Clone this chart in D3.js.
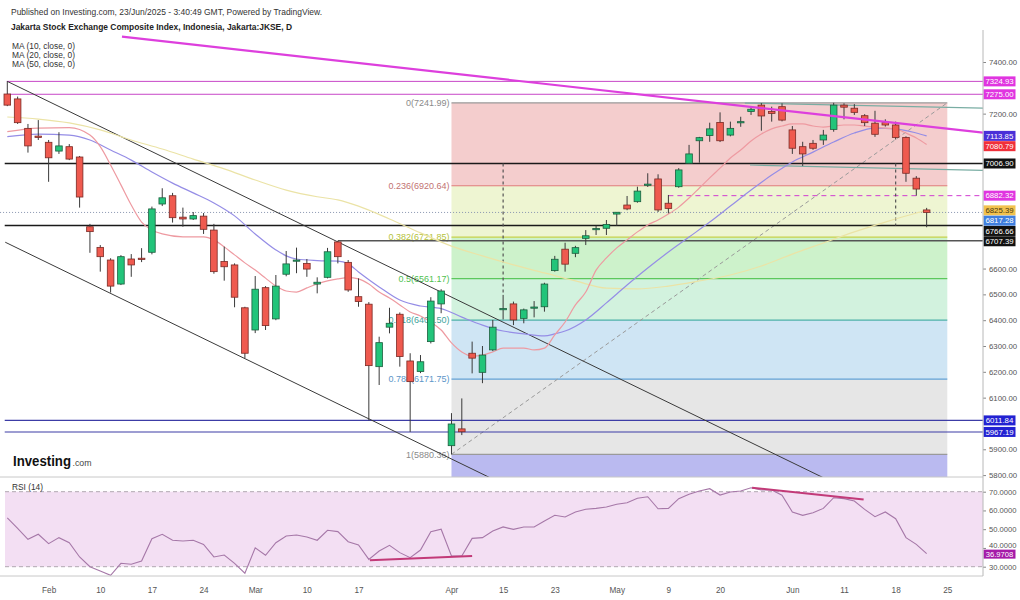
<!DOCTYPE html>
<html>
<head>
<meta charset="utf-8">
<script src="https://cdn.jsdelivr.net/npm/d3@7"></script>
<style>
  body { margin: 0; background: #fff; }
  svg { display: block; }
  text { font-family: "Liberation Sans", Arial, sans-serif; }
</style>
</head>
<body>
<svg id="chart" width="1020" height="600"></svg>
<script>
// ---- trading sessions (JKSE daily), last two are empty future slots ----
const dates = [
  "2025-01-23","2025-01-24","2025-01-30","2025-01-31",
  "2025-02-03","2025-02-04","2025-02-05","2025-02-06","2025-02-07",
  "2025-02-10","2025-02-11","2025-02-12","2025-02-13","2025-02-14",
  "2025-02-17","2025-02-18","2025-02-19","2025-02-20","2025-02-21",
  "2025-02-24","2025-02-25","2025-02-26","2025-02-27","2025-02-28",
  "2025-03-03","2025-03-04","2025-03-05","2025-03-06","2025-03-07",
  "2025-03-10","2025-03-11","2025-03-12","2025-03-13","2025-03-14",
  "2025-03-17","2025-03-18","2025-03-19","2025-03-20","2025-03-21",
  "2025-03-24","2025-03-25","2025-03-26","2025-03-27",
  "2025-04-08","2025-04-09","2025-04-10","2025-04-11",
  "2025-04-14","2025-04-15","2025-04-16","2025-04-17",
  "2025-04-21","2025-04-22","2025-04-23","2025-04-24","2025-04-25",
  "2025-04-28","2025-04-29","2025-04-30",
  "2025-05-02","2025-05-05","2025-05-06","2025-05-07","2025-05-08","2025-05-09",
  "2025-05-14","2025-05-15","2025-05-16",
  "2025-05-19","2025-05-20","2025-05-21","2025-05-22","2025-05-23",
  "2025-05-26","2025-05-27","2025-05-28",
  "2025-06-02","2025-06-03","2025-06-04","2025-06-05",
  "2025-06-10","2025-06-11","2025-06-12","2025-06-13",
  "2025-06-16","2025-06-17","2025-06-18","2025-06-19","2025-06-20",
  "2025-06-23","2025-06-24","2025-06-25"
];

const opens = [
  7276,7257,7143,7113,7089,7055,7072,7032,6762,6682,
  6633,6540,6637,6640,6663,6850,6882,6799,6792,6803,
  6749,6627,6614,6448,6362,6526,6405,6578,6633,6620,
  6540,6566,6703,6624,6491,6462,6220,6373,6423,6242,
  6201,6317,6463,5914,5979,6272,6198,6285,6443,6463,
  6407,6448,6452,6592,6675,6659,6717,6753,6756,6811,
  6846,6859,6925,6947,6853,6917,7008,7095,7115,7166,
  7117,7168,7208,7233,7208,7227,7137,7072,7085,7098,
  7139,7233,7221,7192,7163,7165,7156,7108,6950,6827
];
const highs = [
  7324.93,7266,7160,7175,7098,7128,7082,7036,6773,6691,
  6640,6652,6656,6679,6840,6911,6893,6836,6819,6815,
  6773,6685,6620,6452,6571,6532,6575,6668,6681,6637,
  6566,6680,6707.39,6633,6562,6470,6336,6448,6430,6272,
  6265,6489,6520,6040,6097,6317,6300,6401,6498,6472,
  6445,6474,6545,6649,6700,6688,6749,6766,6788,6819,
  6881,6917,6969,6965,6885,6989,7079,7110,7165,7205,
  7169,7188,7227,7241,7227,7240,7152,7091,7098,7137,
  7241.99,7240,7237,7198,7211,7178,7169,7112,6958,6835
];
const lows = [
  7229,7160,7049,7098,6936,7044,7020,6836,6661,6588,
  6507,6536,6568,6625,6655,6842,6778,6762,6788,6734,
  6580,6553,6450,6253,6350,6362,6400,6570,6582,6568,
  6504,6562,6620,6510,6452,6011.84,6149,6349,6220,5967.19,
  6195,6310,6427,5880.36,5955,6194,6156,6280,6403,6381,
  6388,6411,6433,6588,6588,6644,6691,6730,6730,6766,
  6826,6855,6916,6819,6814,6913,7005,7010,7091,7090,
  7112,7149,7195,7134,7169,7170,7044,6997,7060,7079,
  7130,7178,7195,7152,7110,7150,7100,6936,6882.32,6760
];
const closes = [
  7233,7165,7075,7108,7029,7075,7024,6877,6743,6646,
  6532,6646,6614,6638,6831,6874,6797,6792,6805,6752,
  6588,6607,6489,6272,6520,6379,6532,6618,6633,6598,
  6547,6665,6646,6517,6472,6224,6313,6388,6259,6162,
  6239,6474,6513,5998,5968,6253,6265,6373,6445,6401,
  6440,6451,6540,6636,6617,6681,6727,6755,6771,6818,
  6831,6900,6927,6827,6833,6982,7044,7107,7141,7095,
  7143,7169,7217,7191,7201,7175,7066,7044,7066,7117,
  7233,7225,7205,7165,7120,7156,7108,6969,6908,6817.28
];

// moving averages as [session index, value]
const ma10 = [
  [0,7130],[3,7144],[6,7146],[8,7117],[9,7072],[10,7001],[11,6924],[12,6846],[13,6780],
  [14,6749],[15,6734],[17,6723],[19,6723],[20,6711],[21,6684],[22,6653],[23,6622],
  [24,6594],[25,6563],[26,6532],[27,6513],[28,6509],[29,6525],[30,6540],[31,6552],
  [32,6560],[33,6565],[34,6560],[35,6540],[36,6509],[37,6486],[38,6459],[39,6432],
  [40,6416],[41,6393],[42,6362],[43,6312],[44,6277],[45,6261],[46,6265],[47,6277],
  [48,6292],[49,6292],[50,6292],[51,6285],[52,6292],[53,6343],[54,6393],[55,6459],
  [56,6509],[57,6594],[58,6641],[59,6680],[60,6711],[61,6742],[62,6769],[63,6788],
  [64,6811],[65,6838],[66,6873],[67,6912],[68,6951],[69,6989],[70,7028],[71,7059],
  [72,7094],[73,7121],[74,7141],[75,7152],[76,7160],[77,7160],[78,7152],[79,7148],
  [80,7152],[81,7156],[82,7156],[83,7152],[84,7148],[85,7144],[86,7141],[87,7125],
  [88,7106],[89,7080.79]
];
const ma20 = [
  [0,7111],[3,7121],[6,7117],[8,7098],[10,7059],[12,7020],[14,6974],[16,6931],[18,6893],
  [20,6854],[22,6804],[24,6734],[26,6672],[27,6649],[28,6637],[30,6631],[32,6629],
  [33,6618],[34,6587],[36,6529],[38,6478],[40,6455],[42,6445],[44,6412],[46,6381],
  [48,6358],[50,6347],[52,6339],[53,6347],[54,6358],[56,6401],[58,6467],[60,6536],
  [62,6602],[64,6664],[66,6722],[68,6780],[70,6842],[72,6904],[74,6962],[76,7013],
  [78,7051],[80,7090],[82,7125],[84,7144],[86,7141],[88,7125],[89,7113.85]
];
const ma50 = [
  [0,7187],[3,7179],[6,7164],[9,7137],[12,7098],[15,7063],[18,7024],[21,6986],[24,6943],
  [27,6904],[30,6878],[32,6866],[34,6842],[37,6792],[40,6738],[43,6687],[46,6649],
  [49,6614],[52,6583],[55,6552],[58,6524],[61,6521],[64,6532],[67,6552],[70,6575],
  [73,6610],[76,6656],[79,6699],[82,6742],[85,6780],[88,6815],[89,6825.39]
];

const rsi = [
  56.1,50.5,44.6,47.3,42.3,45.5,42.8,35.2,30.0,27.7,
  25.4,31.8,31.3,33.0,44.9,47.3,44.1,43.7,44.1,41.9,
  35.2,36.2,31.8,26.5,40.1,36.1,42.8,46.4,46.9,45.8,
  44.1,49.4,48.7,43.3,41.6,33.9,38.4,41.4,37.5,34.8,
  38.9,48.7,50.0,35.7,35.7,45.1,45.5,49.0,51.2,49.9,
  51.2,51.2,54.4,57.4,56.5,59.2,60.6,61.1,61.8,63.3,
  64.1,66.5,67.3,60.9,61.1,66.3,68.6,70.4,71.6,68.2,
  69.8,70.4,72.1,70.9,70.9,68.1,59.2,57.4,58.8,61.1,
  66.8,66.3,65.0,60.6,56.7,59.2,55.6,45.5,41.9,36.97
];

// axis ticks
const priceTicks = [7400,7300,7200,7100,7000,6900,6800,6700,6600,6500,6400,6300,6200,6100,6000,5900,5800];
const rsiTicks = [70,60,50,40,30];
const timeTickDates = ["2025-02-03","2025-02-10","2025-02-17","2025-02-24","2025-03-03","2025-03-10","2025-03-17",
  "2025-04-08","2025-04-15","2025-04-23","2025-05-02","2025-05-09","2025-05-20","2025-06-02","2025-06-11","2025-06-18","2025-06-25"];
const timeTickLabels = ["Feb","10","17","24","Mar","10","17","Apr","15","23","May","9","20","Jun","11","18","25"];

// Fibonacci retracement (high 7241.99 / low 5880.36)
const fibRatios = [0, 0.236, 0.382, 0.5, 0.618, 0.786, 1];
const fibPrices = [7241.99, 6920.64, 6721.85, 6561.17, 6400.50, 6171.75, 5880.36];

// drawn horizontal levels
const resistanceLevels = [7324.93, 7275.00];
const keyLevels = [7006.90, 6766.66];
const pivotLevel = [6707.39];
const targetLevel = [6882.32];
const supportLevels = [6011.84, 5967.19];
const lastPrice = 6817.28;
const lastRsi = 36.9708;

// trend lines as [session index, price]
const magentaTrend = [[11.1, 7498], [94.5, 7126]];
const channelUpper = [[0, 7324.93], [79.2, 5786]];
const channelLower = [[-0.2, 6702], [47.5, 5775]];
const tealLines = [[[71.4, 7241], [94.5, 7221]], [[71.9, 7001], [94.5, 6980]]];
const rsiDivergences = [[[35.1, 33.4], [45.0, 35.7]], [[72.1, 72.1], [82.9, 65.9]]];

// ---------------------------------------------------------------------
const svg = d3.select("#chart");
const axisX = 983;
const priceTop = 30, priceBottom = 477, rsiBottom = 576;

const x = d3.scaleLinear().domain([0, dates.length - 1]).range([7.3, 947.3]);
const y = d3.scaleLinear().domain([5800, 7400]).range([475.1, 62]);
const yR = d3.scaleLinear().domain([30, 70]).range([566.7, 491.7]);

const defs = svg.append("defs");
defs.append("clipPath").attr("id", "clipPrice")
  .append("rect").attr("x", 0).attr("y", priceTop).attr("width", axisX).attr("height", priceBottom - priceTop);
defs.append("clipPath").attr("id", "clipRsi")
  .append("rect").attr("x", 0).attr("y", priceBottom).attr("width", axisX).attr("height", rsiBottom - priceBottom);

// ---- header ----
svg.append("text").attr("x", 11).attr("y", 15).attr("font-size", 9.5).attr("fill", "#333")
  .attr("textLength", 311).attr("lengthAdjust", "spacingAndGlyphs")
  .text("Published on Investing.com, 23/Jun/2025 - 3:40:49 GMT, Powered by TradingView.");
svg.append("text").attr("x", 11).attr("y", 29.5).attr("font-size", 9.5).attr("font-weight", "bold").attr("fill", "#222")
  .attr("textLength", 281).attr("lengthAdjust", "spacingAndGlyphs")
  .text("Jakarta Stock Exchange Composite Index, Indonesia, Jakarta:JKSE, D");
["MA (10, close, 0)", "MA (20, close, 0)", "MA (50, close, 0)"].forEach((t, i) => {
  svg.append("text").attr("x", 12).attr("y", 46 + i * 8.8).attr("dy", "0.35em")
    .attr("font-size", 8.5).attr("fill", "#333")
    .attr("textLength", 63).attr("lengthAdjust", "spacingAndGlyphs").text(t);
});

// ---- price panel ----
const gP = svg.append("g").attr("clip-path", "url(#clipPrice)");
const fibLeft = x(dates.indexOf("2025-04-08"));
const fibRight = x(dates.length - 1);
const fibFill = ["#f4cdcd", "#eef5d2", "#cdf2cb", "#d2f2de", "#cfe5f4", "#e6e6e6"];
const fibLine = ["#9a9a9a", "#e07a7a", "#c6d24a", "#5cc85c", "#4cb0a8", "#62a2d6", "#9a9a9a"];
const fibText = ["#8a8a8a", "#c27272", "#b5c23c", "#4fbf4f", "#41a39b", "#5b95c8", "#8a8a8a"];

fibPrices.slice(0, -1).forEach((p, i) => {
  gP.append("rect").attr("x", fibLeft).attr("width", fibRight - fibLeft)
    .attr("y", y(p)).attr("height", y(fibPrices[i + 1]) - y(p)).attr("fill", fibFill[i]);
});
gP.append("rect").attr("x", fibLeft).attr("width", fibRight - fibLeft)
  .attr("y", y(fibPrices[fibPrices.length - 1])).attr("height", priceBottom - y(fibPrices[fibPrices.length - 1]))
  .attr("fill", "#babaf0");
fibPrices.forEach((p, i) => {
  gP.append("line").attr("x1", fibLeft).attr("x2", fibRight).attr("y1", y(p)).attr("y2", y(p))
    .attr("stroke", fibLine[i]).attr("stroke-width", 1.2);
  gP.append("text").attr("x", fibLeft - 2).attr("y", y(p)).attr("dy", "0.35em")
    .attr("text-anchor", "end").attr("font-size", 9).attr("fill", fibText[i])
    .text(`${fibRatios[i]}(${p.toFixed(2)})`);
});

const line2 = d3.line().x(d => x(d[0])).y(d => y(d[1]));

// diagonal of the retracement
gP.append("path").attr("d", line2([[dates.indexOf("2025-04-08"), fibPrices[6]], [dates.length - 1, fibPrices[0]]]))
  .attr("stroke", "#9a9a9a").attr("stroke-dasharray", "4,3").attr("fill", "none");

// horizontal levels
const hLine = (v, fromIdx, color, w, dash) => {
  gP.append("line").attr("x1", x(fromIdx)).attr("x2", axisX).attr("y1", y(v)).attr("y2", y(v))
    .attr("stroke", color).attr("stroke-width", w).attr("stroke-dasharray", dash || null);
};
hLine(lastPrice, -0.7, "#8a96b0", 1, "1,2");
resistanceLevels.forEach(v => hLine(v, -0.05, "#c847c8", 1));
keyLevels.forEach(v => hLine(v, -0.25, "#1a1a1a", 1.6));
pivotLevel.forEach(v => hLine(v, 32, "#555", 1.5));
targetLevel.forEach(v => hLine(v, 64, "#d03cd0", 1, "5,4"));
supportLevels.forEach(v => hLine(v, -0.25, "#3c3ca6", 1.1));

// measuring verticals
[[48, keyLevels[0], highs[48]], [86, keyLevels[0], keyLevels[1]]].forEach(d => {
  gP.append("line").attr("x1", x(d[0])).attr("x2", x(d[0])).attr("y1", y(d[1])).attr("y2", y(d[2]))
    .attr("stroke", "#555").attr("stroke-width", 1.2).attr("stroke-dasharray", "3,3");
});

// channel and trend lines
[channelUpper, channelLower].forEach(c => {
  gP.append("path").attr("d", line2(c)).attr("stroke", "#3a3a3a").attr("stroke-width", 1).attr("fill", "none");
});
tealLines.forEach(c => {
  gP.append("path").attr("d", line2(c)).attr("stroke", "#79ada3").attr("stroke-width", 1.2).attr("fill", "none");
});

// moving averages
const maLine = d3.line().x(d => x(d[0])).y(d => y(d[1])).curve(d3.curveMonotoneX);
[[ma50, "#ebe3a6"], [ma20, "#958de6"], [ma10, "#ee9aa1"]].forEach(([data, color]) => {
  gP.append("path").attr("d", maLine(data)).attr("stroke", color).attr("stroke-width", 1.2)
    .attr("fill", "none");
});

// candles
const candles = closes.map((c, i) => ({ i, o: opens[i], h: highs[i], l: lows[i], c }));
const bw = 6.6;
gP.selectAll("line.wick").data(candles).join("line").attr("class", "wick")
  .attr("x1", d => x(d.i)).attr("x2", d => x(d.i))
  .attr("y1", d => y(d.h)).attr("y2", d => y(d.l))
  .attr("stroke", "#3a3a3a").attr("stroke-width", 1);
gP.selectAll("rect.body").data(candles).join("rect").attr("class", "body")
  .attr("x", d => x(d.i) - bw / 2).attr("width", bw)
  .attr("y", d => y(Math.max(d.o, d.c)))
  .attr("height", d => Math.max(1.2, Math.abs(y(d.o) - y(d.c))))
  .attr("fill", d => d.c >= d.o ? "#22c47a" : "#ef5a4f")
  .attr("stroke", d => d.c >= d.o ? "#1d5e3e" : "#7a2a25")
  .attr("stroke-width", 0.8);

// descending magenta trendline on top
gP.append("path").attr("d", line2(magentaTrend)).attr("stroke", "#dd3fdd").attr("stroke-width", 2.2).attr("fill", "none");

// ---- logo ----
svg.append("text").attr("x", 13).attr("y", 466).attr("font-size", 14).attr("font-weight", "bold")
  .attr("fill", "#111").attr("textLength", 58).attr("lengthAdjust", "spacingAndGlyphs").text("Investing");
svg.append("text").attr("x", 72.5).attr("y", 466).attr("font-size", 9.5).attr("fill", "#444")
  .attr("textLength", 19).attr("lengthAdjust", "spacingAndGlyphs").text(".com");

// ---- price axis ----
const markDefs = [
  { v: resistanceLevels[0], bg: "#e035e0", fg: "#fff" },
  { v: resistanceLevels[1], bg: "#e035e0", fg: "#fff" },
  { v: ma20[ma20.length - 1][1], bg: "#4a30d8", fg: "#fff" },
  { v: ma10[ma10.length - 1][1], bg: "#f0303a", fg: "#fff" },
  { v: keyLevels[0], bg: "#111", fg: "#fff" },
  { v: targetLevel[0], bg: "#e035e0", fg: "#fff" },
  { v: ma50[ma50.length - 1][1], bg: "#f2c24e", fg: "#4a3a10" },
  { v: lastPrice, bg: "#3f7fe0", fg: "#fff" },
  { v: keyLevels[1], bg: "#111", fg: "#fff" },
  { v: pivotLevel[0], bg: "#111", fg: "#fff" },
  { v: supportLevels[0], bg: "#2222d2", fg: "#fff" },
  { v: supportLevels[1], bg: "#2222d2", fg: "#fff" }
].sort((a, b) => y(a.v) - y(b.v));
let prevPos = -Infinity;
markDefs.forEach(m => { m.pos = Math.max(y(m.v), prevPos + 10.3); prevPos = m.pos; });

const visibleTicks = priceTicks.filter(t => markDefs.every(m => Math.abs(m.pos - y(t)) > 9));
const gAx = svg.append("g").attr("transform", `translate(${axisX},0)`)
  .call(d3.axisRight(y).tickValues(visibleTicks).tickFormat(d3.format(".2f")).tickSize(3).tickPadding(3));
gAx.select(".domain").remove();
gAx.selectAll("line").attr("stroke", "#888");
gAx.selectAll("text").attr("font-size", 7.8).attr("fill", "#555").attr("font-family", "Liberation Sans, Arial, sans-serif");

const gMarks = svg.append("g");
markDefs.forEach(m => {
  gMarks.append("rect").attr("x", axisX + 0.5).attr("y", m.pos - 5).attr("width", 32).attr("height", 10).attr("fill", m.bg);
  gMarks.append("text").attr("x", axisX + 16.5).attr("y", m.pos).attr("dy", "0.35em").attr("text-anchor", "middle")
    .attr("font-size", 7.8).attr("fill", m.fg).text(m.v.toFixed(2));
});

// ---- RSI panel ----
const gR = svg.append("g").attr("clip-path", "url(#clipRsi)");
gR.append("rect").attr("x", 5).attr("width", axisX - 5).attr("y", yR(70)).attr("height", yR(30) - yR(70)).attr("fill", "#f3dff3");
[70, 30].forEach(v => {
  gR.append("line").attr("x1", 5).attr("x2", axisX).attr("y1", yR(v)).attr("y2", yR(v))
    .attr("stroke", "#b0a8b0").attr("stroke-dasharray", "4,3").attr("stroke-width", 1);
});
gR.append("path").datum(rsi)
  .attr("d", d3.line().x((d, i) => x(i)).y(d => yR(d)))
  .attr("stroke", "#a678a8").attr("stroke-width", 1.1).attr("fill", "none");
rsiDivergences.forEach(seg => {
  gR.append("path").attr("d", d3.line().x(d => x(d[0])).y(d => yR(d[1]))(seg))
    .attr("stroke", "#c23a78").attr("stroke-width", 2).attr("fill", "none");
});
svg.append("text").attr("x", 12).attr("y", 486.7).attr("dy", "0.35em").attr("font-size", 9).attr("fill", "#333")
  .attr("textLength", 31).attr("lengthAdjust", "spacingAndGlyphs").text("RSI (14)");

// the value tag sits over the 40 level, so that tick label is lifted a little
const rsiTagH = 9;
const gRa = svg.append("g").attr("transform", `translate(${axisX},0)`)
  .call(d3.axisRight(yR).tickValues(rsiTicks).tickFormat(d3.format(".4f")).tickSize(3).tickPadding(3));
gRa.select(".domain").remove();
gRa.selectAll("line").attr("stroke", "#888");
gRa.selectAll("text").attr("font-size", 7.6).attr("fill", "#555").attr("font-family", "Liberation Sans, Arial, sans-serif")
  .attr("dy", d => Math.abs(yR(d) - yR(lastRsi)) < 10 ? "-0.1em" : "0.32em");
svg.append("rect").attr("x", axisX + 0.5).attr("y", yR(lastRsi) - rsiTagH / 2 + 0.5).attr("width", 32).attr("height", rsiTagH).attr("fill", "#a51aa8");
svg.append("text").attr("x", axisX + 16.5).attr("y", yR(lastRsi) + 0.5).attr("dy", "0.35em").attr("text-anchor", "middle")
  .attr("font-size", 7.6).attr("fill", "#fff").text(lastRsi.toFixed(4));

// ---- frame lines ----
svg.append("line").attr("x1", 0).attr("x2", axisX).attr("y1", priceBottom).attr("y2", priceBottom).attr("stroke", "#c8c8c8");
svg.append("line").attr("x1", 0).attr("x2", axisX).attr("y1", rsiBottom).attr("y2", rsiBottom).attr("stroke", "#c8c8c8");
svg.append("line").attr("x1", axisX).attr("x2", axisX).attr("y1", priceTop).attr("y2", rsiBottom).attr("stroke", "#b8b8b8");

// ---- time axis ----
const gT = svg.append("g").attr("transform", `translate(0,${rsiBottom})`)
  .call(d3.axisBottom(x).tickValues(timeTickDates.map(d => dates.indexOf(d)))
    .tickFormat((d, i) => timeTickLabels[i]).tickSize(0).tickPadding(11));
gT.select(".domain").remove();
gT.selectAll("text").attr("font-size", 8.2).attr("fill", "#555").attr("font-family", "Liberation Sans, Arial, sans-serif");
</script>
</body>
</html>
